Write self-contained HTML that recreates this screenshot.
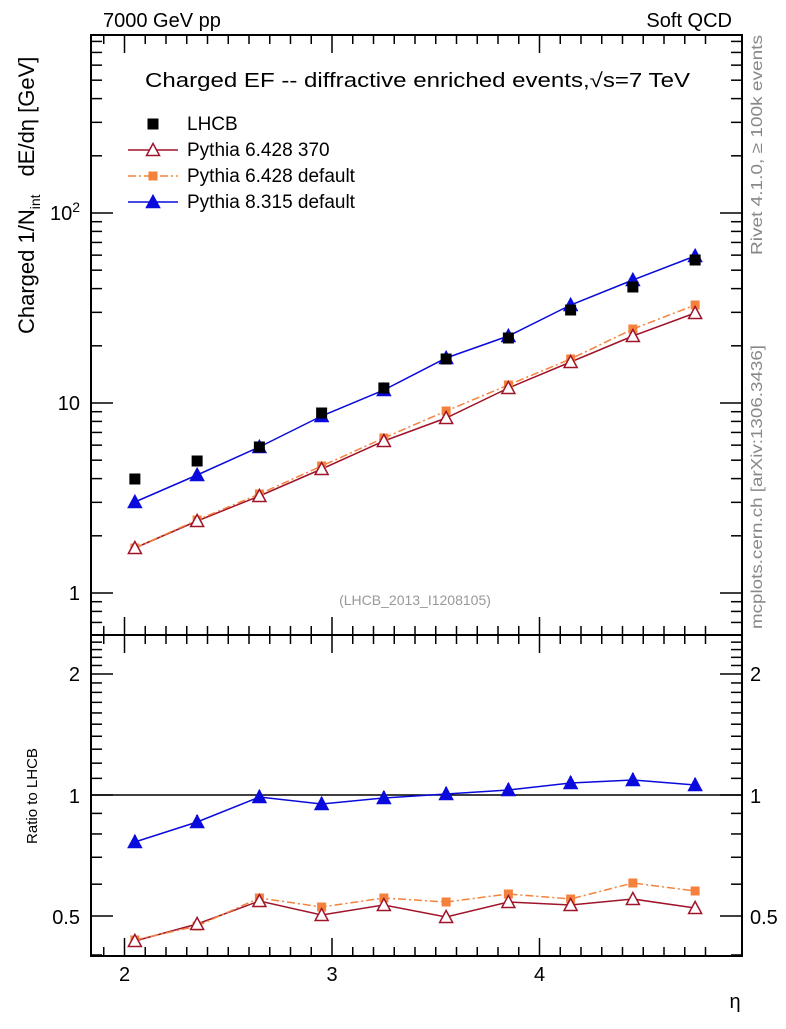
<!DOCTYPE html>
<html><head><meta charset="utf-8"><style>
body{margin:0;background:#fff;width:786px;height:1024px;overflow:hidden}
svg{font-family:"Liberation Sans",sans-serif}
</style></head><body>
<svg id="s" width="786" height="1024" xmlns="http://www.w3.org/2000/svg"></svg>
<script>
const s=document.getElementById('s');let h='';
const L=91,R=742,T=35,M=635,B=956;
const X=v=>124.5+(v-2)*207.5;
const YM=v=>593-190*Math.log10(v);
const YR=v=>795-402*Math.log10(v);
h+=`<rect x="${L}" y="${T}" width="${R-L}" height="${B-T}" fill="none" stroke="#000" stroke-width="2"/>`;
h+=`<line x1="${L}" y1="${M}" x2="${R}" y2="${M}" stroke="#000" stroke-width="2"/>`;
for(let i=19;i<=48;i++){const v=i/10,x=X(v);if(x<L||x>R)continue;const len=(i%10==0)?18:9;
 for(const [y,d] of [[T,1],[M,-1],[M,1],[B,-1]]) h+=`<line x1="${x}" y1="${y}" x2="${x}" y2="${y+d*len}" stroke="#000" stroke-width="1.5"/>`;}
for(let e=-1;e<=2;e++)for(let m=1;m<=9;m++){const v=m*Math.pow(10,e),y=YM(v);if(y<T||y>M)continue;const len=m==1?22:11;
 h+=`<line x1="${L}" y1="${y}" x2="${L+len}" y2="${y}" stroke="#000" stroke-width="1.5"/><line x1="${R}" y1="${y}" x2="${R-len}" y2="${y}" stroke="#000" stroke-width="1.5"/>`;}
for(let i=4;i<=25;i++){const v=i/10,y=YR(v);if(y<M||y>B)continue;const len=(i==5||i==10||i==20)?22:11;
 h+=`<line x1="${L}" y1="${y}" x2="${L+len}" y2="${y}" stroke="#000" stroke-width="1.5"/><line x1="${R}" y1="${y}" x2="${R-len}" y2="${y}" stroke="#000" stroke-width="1.5"/>`;}
h+=`<line x1="${L}" y1="${YR(1)}" x2="${R}" y2="${YR(1)}" stroke="#000" stroke-width="1.5"/>`;
const t=(x,y,txt,sz,anc,extra='')=>h+=`<text x="${x}" y="${y}" font-size="${sz}" text-anchor="${anc||'start'}" ${extra}>${txt}</text>`;
t(X(2),981,"2",20,"middle");t(X(3),981,"3",20,"middle");t(X(4),981,"4",20,"middle");
t(735,1008,"η",20,"middle");
t(80,600,"1",20,"end");t(80,410,"10",20,"end");
h+=`<text x="80" y="220" font-size="20" text-anchor="end">10<tspan dy="-8" font-size="14">2</tspan></text>`;
t(80,681,"2",20,"end");t(80,803,"1",20,"end");t(80,924,"0.5",20,"end");
t(750,681,"2",20);t(750,803,"1",20);t(750,924,"0.5",20);
t(103,27,"7000 GeV pp",20);t(732,27,"Soft QCD",20,"end");
t(145,87,"Charged EF -- diffractive enriched events,√s=7 TeV",20,"start",'textLength="545" lengthAdjust="spacingAndGlyphs"');
t(415,605,"(LHCB_2013_I1208105)",14,"middle",'fill="#999"');
h+=`<text transform="translate(34,334) rotate(-90)" font-size="22">Charged 1/N<tspan dy="6" font-size="14">int</tspan><tspan dy="-6" dx="18">dE/dη [GeV]</tspan></text>`;
h+=`<text transform="translate(37,796) rotate(-90)" font-size="15" text-anchor="middle">Ratio to LHCB</text>`;
h+=`<text transform="translate(762,255) rotate(-90)" font-size="16" fill="#888" textLength="220" lengthAdjust="spacingAndGlyphs">Rivet 4.1.0, ≥ 100k events</text>`;
h+=`<text transform="translate(762,629) rotate(-90)" font-size="16" fill="#888" textLength="284" lengthAdjust="spacingAndGlyphs">mcplots.cern.ch [arXiv:1306.3436]</text>`;
const xs=[2.05,2.35,2.65,2.95,3.25,3.55,3.85,4.15,4.45,4.75].map(X);
const data=[479,461,447,413,388,359,338,310,287,260];
const p8=[502,475,447,416,390,358,336,305,280,256],p8r=[842,822,797,804,798,794,790,783,780,785];
const p6=[548,521,496,469,441,418,388,362,336,313],p6r=[941,924,901,915,905,917,902,905,899,908];
const pd=[548,520,494,466,438,411,385,359,329,305],pdr=[940,926,898,907,898,902,894,899,883,891];
const line=(ys,c,dash)=>h+=`<polyline points="${xs.map((x,i)=>x+','+ys[i]).join(' ')}" fill="none" stroke="${c}" stroke-width="1.5" ${dash?'stroke-dasharray="8,3,2,3"':''}/>`;
const tri=(x,y,c,fill)=>h+=`<polygon points="${x-6.5},${y+5.5} ${x+6.5},${y+5.5} ${x},${y-6.5}" fill="${fill?c:'#fff'}" stroke="${c}" stroke-width="1.5"/>`;
const sq=(x,y,c,r)=>h+=`<rect x="${x-r}" y="${y-r}" width="${2*r}" height="${2*r}" fill="${c}"/>`;
const RED='#a0142a',OR='#f5823c',BL='#0a0adc';
line(p6,RED);line(pd,OR,1);line(p8,BL);line(p6r,RED);line(pdr,OR,1);line(p8r,BL);
xs.forEach((x,i)=>{sq(x,pd[i],OR,4.5);sq(x,pdr[i],OR,4.5);tri(x,p6[i],RED,0);tri(x,p6r[i],RED,0);tri(x,p8[i],BL,1);tri(x,p8r[i],BL,1);
 h+=`<line x1="${x}" y1="${p8r[i]-7}" x2="${x}" y2="${p8r[i]+5}" stroke="${BL}" stroke-width="2"/>`;
 sq(x,data[i],'#000',5.5);});
sq(153,124,'#000',5.5);t(187,130,"LHCB",19);
h+=`<line x1="128" y1="150" x2="178" y2="150" stroke="${RED}" stroke-width="1.5"/>`;tri(153,150,RED,0);t(187,156,"Pythia 6.428 370",19);
h+=`<line x1="128" y1="176" x2="178" y2="176" stroke="${OR}" stroke-width="1.5" stroke-dasharray="8,3,2,3"/>`;sq(153,176,OR,4.5);t(187,182,"Pythia 6.428 default",19);
h+=`<line x1="128" y1="202" x2="178" y2="202" stroke="${BL}" stroke-width="1.5"/>`;tri(153,202,BL,1);t(187,208,"Pythia 8.315 default",19);
s.innerHTML=h;
</script>
</body></html>
